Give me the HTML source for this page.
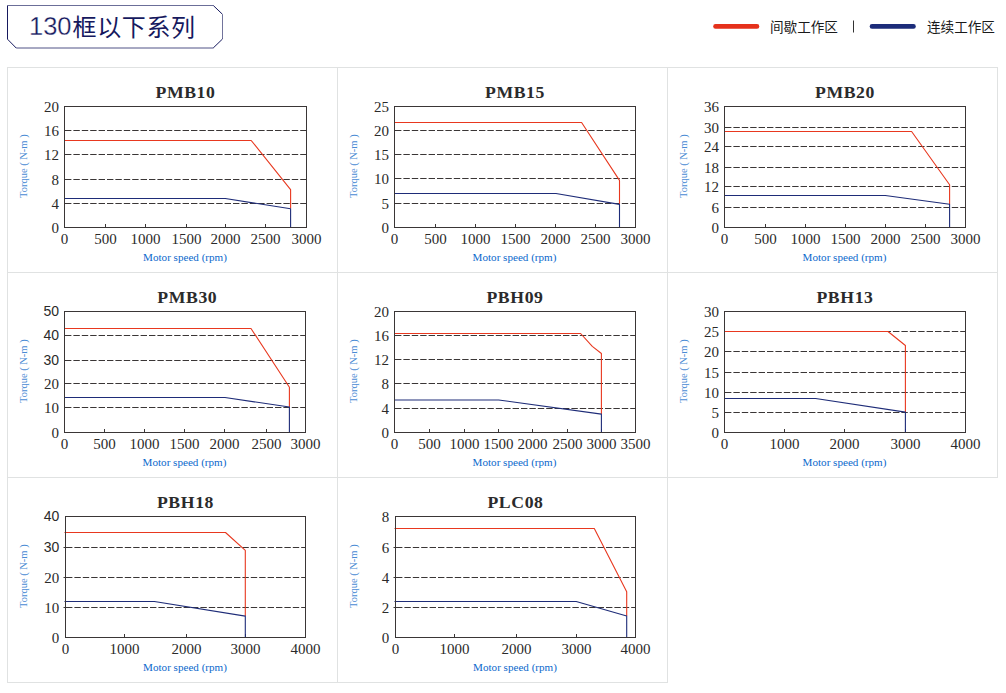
<!DOCTYPE html>
<html lang="zh-CN"><head><meta charset="utf-8"><title>130框以下系列</title>
<style>
html,body{margin:0;padding:0;background:#fff;}
body{width:1006px;height:693px;overflow:hidden;}
svg{display:block;}
.g{stroke:#3a3636;stroke-width:1;stroke-dasharray:6.4 2;stroke-dashoffset:7.9;fill:none;}
.a{stroke:#3a3636;stroke-width:1;fill:none;}
.r{stroke:#e8381f;stroke-width:1.1;fill:none;stroke-linejoin:round;}
.b{stroke:#1e2c78;stroke-width:1.1;fill:none;stroke-linejoin:round;}
.yt{text-anchor:end;fill:#2a2a2a;}
.xt{text-anchor:middle;fill:#2a2a2a;}
.tt{text-anchor:middle;font-family:"Liberation Serif",serif;font-weight:bold;font-size:17.7px;letter-spacing:0.6px;fill:#2b2b2b;}
.xl{text-anchor:middle;font-family:"Liberation Serif",serif;font-size:11.1px;fill:#0a68cc;}
.yl{text-anchor:middle;font-family:"Liberation Serif",serif;font-size:10.5px;fill:#4a8bd4;}
.hd{font-family:"Liberation Sans","Noto Sans CJK SC",sans-serif;font-size:24px;fill:#16195e;}
.lg{font-family:"Liberation Sans","Noto Sans CJK SC",sans-serif;font-size:13.6px;fill:#1a1a1a;}
</style></head>
<body>
<svg width="1006" height="693" viewBox="0 0 1006 693">
<g fill="none" stroke-width="1">
<path d="M7.5 5 V39.2 L16.2 48" stroke="#16195e"/>
<path d="M7 5.5 H213.3" stroke="#6b6e98"/>
<path d="M213.3 5.5 L222.5 14.3" stroke="#16195e"/>
<path d="M222.5 14.3 V39" stroke="#72749c"/>
<path d="M222.5 39 L213.2 48" stroke="#16195e"/>
<path d="M16.2 48 H213.2" stroke="#16195e" stroke-opacity="0.75"/>
</g>
<text x="29" y="35.2" class="hd"><tspan style="font-size:25.5px;stroke:#fff;stroke-width:0.3px">130</tspan><tspan x="72.6" y="35.8" style="letter-spacing:0.6px">框以下系列</tspan></text>
<line x1="715.5" y1="26.4" x2="757" y2="26.4" stroke="#e5311b" stroke-width="4.6" stroke-linecap="round"/>
<text x="770" y="31.6" class="lg">间歇工作区</text>
<line x1="853.5" y1="20.5" x2="853.5" y2="32.5" stroke="#333" stroke-width="1"/>
<line x1="872" y1="26.4" x2="913.5" y2="26.4" stroke="#1c2c7a" stroke-width="4.6" stroke-linecap="round"/>
<text x="927" y="31.6" class="lg">连续工作区</text>
<g stroke="#e0e2e2" stroke-width="1" fill="none">
<line x1="7" y1="67.5" x2="998" y2="67.5"/>
<line x1="7" y1="272.5" x2="998" y2="272.5"/>
<line x1="7" y1="477.5" x2="998" y2="477.5"/>
<line x1="7" y1="682.5" x2="668" y2="682.5"/>
<line x1="7.5" y1="67" x2="7.5" y2="683"/>
<line x1="337.5" y1="67" x2="337.5" y2="683"/>
<line x1="667.5" y1="67" x2="667.5" y2="683"/>
<line x1="997.5" y1="67" x2="997.5" y2="478"/>
</g>
<line x1="64.5" y1="203.5" x2="306.5" y2="203.5" class="g"/>
<line x1="64.5" y1="179.5" x2="306.5" y2="179.5" class="g"/>
<line x1="64.5" y1="154.5" x2="306.5" y2="154.5" class="g"/>
<line x1="64.5" y1="130.5" x2="306.5" y2="130.5" class="g"/>
<line x1="105.5" y1="224" x2="105.5" y2="227.5" class="a"/>
<line x1="145.5" y1="224" x2="145.5" y2="227.5" class="a"/>
<line x1="186.5" y1="224" x2="186.5" y2="227.5" class="a"/>
<line x1="225.5" y1="224" x2="225.5" y2="227.5" class="a"/>
<line x1="265.5" y1="224" x2="265.5" y2="227.5" class="a"/>
<polyline points="64.5,140.5 251.2,140.5 290.6,189.6 290.6,208.6" class="r"/>
<polyline points="64.5,198.5 225.3,198.5 290.6,208.8 290.6,227.5" class="b"/>
<rect x="64.5" y="106.5" width="242" height="121" class="a"/>
<text x="59" y="232.8" class="yt" style="font-family:'Liberation Serif', serif;font-size:15px">0</text>
<text x="59" y="208.8" class="yt" style="font-family:'Liberation Serif', serif;font-size:15px">4</text>
<text x="59" y="184.8" class="yt" style="font-family:'Liberation Serif', serif;font-size:15px">8</text>
<text x="59" y="159.8" class="yt" style="font-family:'Liberation Serif', serif;font-size:15px">12</text>
<text x="59" y="135.8" class="yt" style="font-family:'Liberation Serif', serif;font-size:15px">16</text>
<text x="59" y="111.8" class="yt" style="font-family:'Liberation Serif', serif;font-size:15px">20</text>
<text x="64.5" y="244" class="xt" style="font-family:'Liberation Serif', serif;font-size:15px">0</text>
<text x="105.5" y="244" class="xt" style="font-family:'Liberation Serif', serif;font-size:15px">500</text>
<text x="145.5" y="244" class="xt" style="font-family:'Liberation Serif', serif;font-size:15px">1000</text>
<text x="186.5" y="244" class="xt" style="font-family:'Liberation Serif', serif;font-size:15px">1500</text>
<text x="225.5" y="244" class="xt" style="font-family:'Liberation Serif', serif;font-size:15px">2000</text>
<text x="265.5" y="244" class="xt" style="font-family:'Liberation Serif', serif;font-size:15px">2500</text>
<text x="306.5" y="244" class="xt" style="font-family:'Liberation Serif', serif;font-size:15px">3000</text>
<text x="185.5" y="97.8" class="tt">PMB10</text>
<text x="185" y="261" class="xl">Motor speed (rpm)</text>
<text transform="translate(27.1 166.2) rotate(-90)" class="yl">Torque ( N-m )</text>
<line x1="394.5" y1="203.5" x2="635.5" y2="203.5" class="g"/>
<line x1="394.5" y1="178.5" x2="635.5" y2="178.5" class="g"/>
<line x1="394.5" y1="154.5" x2="635.5" y2="154.5" class="g"/>
<line x1="394.5" y1="130.5" x2="635.5" y2="130.5" class="g"/>
<line x1="435.5" y1="224" x2="435.5" y2="227.5" class="a"/>
<line x1="475.5" y1="224" x2="475.5" y2="227.5" class="a"/>
<line x1="515.5" y1="224" x2="515.5" y2="227.5" class="a"/>
<line x1="555.5" y1="224" x2="555.5" y2="227.5" class="a"/>
<line x1="595.5" y1="224" x2="595.5" y2="227.5" class="a"/>
<polyline points="394.5,122.5 581.6,122.5 619.5,180.4 619.5,204" class="r"/>
<polyline points="394.5,193.5 556,193.5 619.5,204.4 619.5,227.5" class="b"/>
<rect x="394.5" y="106.5" width="241" height="121" class="a"/>
<text x="389" y="232.8" class="yt" style="font-family:'Liberation Serif', serif;font-size:15px">0</text>
<text x="389" y="208.8" class="yt" style="font-family:'Liberation Serif', serif;font-size:15px">5</text>
<text x="389" y="183.8" class="yt" style="font-family:'Liberation Serif', serif;font-size:15px">10</text>
<text x="389" y="159.8" class="yt" style="font-family:'Liberation Serif', serif;font-size:15px">15</text>
<text x="389" y="135.8" class="yt" style="font-family:'Liberation Serif', serif;font-size:15px">20</text>
<text x="389" y="111.8" class="yt" style="font-family:'Liberation Serif', serif;font-size:15px">25</text>
<text x="394.5" y="244" class="xt" style="font-family:'Liberation Serif', serif;font-size:15px">0</text>
<text x="435.5" y="244" class="xt" style="font-family:'Liberation Serif', serif;font-size:15px">500</text>
<text x="475.5" y="244" class="xt" style="font-family:'Liberation Serif', serif;font-size:15px">1000</text>
<text x="515.5" y="244" class="xt" style="font-family:'Liberation Serif', serif;font-size:15px">1500</text>
<text x="555.5" y="244" class="xt" style="font-family:'Liberation Serif', serif;font-size:15px">2000</text>
<text x="595.5" y="244" class="xt" style="font-family:'Liberation Serif', serif;font-size:15px">2500</text>
<text x="635.5" y="244" class="xt" style="font-family:'Liberation Serif', serif;font-size:15px">3000</text>
<text x="515" y="97.8" class="tt">PMB15</text>
<text x="514.5" y="261" class="xl">Motor speed (rpm)</text>
<text transform="translate(357.1 166.2) rotate(-90)" class="yl">Torque ( N-m )</text>
<line x1="724.5" y1="207.5" x2="965.5" y2="207.5" class="g"/>
<line x1="724.5" y1="186.5" x2="965.5" y2="186.5" class="g"/>
<line x1="724.5" y1="167.5" x2="965.5" y2="167.5" class="g"/>
<line x1="724.5" y1="146.5" x2="965.5" y2="146.5" class="g"/>
<line x1="724.5" y1="127.5" x2="965.5" y2="127.5" class="g"/>
<line x1="765.5" y1="224" x2="765.5" y2="227.5" class="a"/>
<line x1="805.5" y1="224" x2="805.5" y2="227.5" class="a"/>
<line x1="845.5" y1="224" x2="845.5" y2="227.5" class="a"/>
<line x1="885.5" y1="224" x2="885.5" y2="227.5" class="a"/>
<line x1="925.5" y1="224" x2="925.5" y2="227.5" class="a"/>
<polyline points="724.5,131.5 911.6,131.5 949.6,184.7 949.6,204.2" class="r"/>
<polyline points="724.5,195.5 885.3,195.5 949.6,204.2 949.6,227.5" class="b"/>
<rect x="724.5" y="106.5" width="241" height="121" class="a"/>
<text x="719" y="232.8" class="yt" style="font-family:'Liberation Serif', serif;font-size:15px">0</text>
<text x="719" y="212.8" class="yt" style="font-family:'Liberation Serif', serif;font-size:15px">6</text>
<text x="719" y="191.8" class="yt" style="font-family:'Liberation Serif', serif;font-size:15px">12</text>
<text x="719" y="172.8" class="yt" style="font-family:'Liberation Serif', serif;font-size:15px">18</text>
<text x="719" y="151.8" class="yt" style="font-family:'Liberation Serif', serif;font-size:15px">24</text>
<text x="719" y="132.8" class="yt" style="font-family:'Liberation Serif', serif;font-size:15px">30</text>
<text x="719" y="111.8" class="yt" style="font-family:'Liberation Serif', serif;font-size:15px">36</text>
<text x="724.5" y="244" class="xt" style="font-family:'Liberation Serif', serif;font-size:15px">0</text>
<text x="765.5" y="244" class="xt" style="font-family:'Liberation Serif', serif;font-size:15px">500</text>
<text x="805.5" y="244" class="xt" style="font-family:'Liberation Serif', serif;font-size:15px">1000</text>
<text x="845.5" y="244" class="xt" style="font-family:'Liberation Serif', serif;font-size:15px">1500</text>
<text x="885.5" y="244" class="xt" style="font-family:'Liberation Serif', serif;font-size:15px">2000</text>
<text x="925.5" y="244" class="xt" style="font-family:'Liberation Serif', serif;font-size:15px">2500</text>
<text x="965.5" y="244" class="xt" style="font-family:'Liberation Serif', serif;font-size:15px">3000</text>
<text x="845" y="97.8" class="tt">PMB20</text>
<text x="844.5" y="261" class="xl">Motor speed (rpm)</text>
<text transform="translate(687.1 166.2) rotate(-90)" class="yl">Torque ( N-m )</text>
<line x1="64.5" y1="407.5" x2="305.5" y2="407.5" class="g"/>
<line x1="64.5" y1="383.5" x2="305.5" y2="383.5" class="g"/>
<line x1="64.5" y1="360.5" x2="305.5" y2="360.5" class="g"/>
<line x1="64.5" y1="335.5" x2="305.5" y2="335.5" class="g"/>
<line x1="104.5" y1="429" x2="104.5" y2="432.5" class="a"/>
<line x1="144.5" y1="429" x2="144.5" y2="432.5" class="a"/>
<line x1="184.5" y1="429" x2="184.5" y2="432.5" class="a"/>
<line x1="224.5" y1="429" x2="224.5" y2="432.5" class="a"/>
<line x1="266.5" y1="429" x2="266.5" y2="432.5" class="a"/>
<polyline points="64.5,328.5 251,328.5 289.4,387.2 289.4,407" class="r"/>
<polyline points="64.5,397.5 225,397.5 289.4,407 289.4,432.5" class="b"/>
<rect x="64.5" y="311.5" width="241" height="121" class="a"/>
<text x="59" y="437.8" class="yt" style="font-family:'Liberation Serif', serif;font-size:15px">0</text>
<text x="59" y="412.8" class="yt" style="font-family:'Liberation Serif', serif;font-size:15px">10</text>
<text x="59" y="388.8" class="yt" style="font-family:'Liberation Serif', serif;font-size:15px">20</text>
<text x="59" y="365.3" class="yt" style="font-family:'Liberation Sans', sans-serif;font-size:14px">30</text>
<text x="59" y="340.3" class="yt" style="font-family:'Liberation Sans', sans-serif;font-size:14px">40</text>
<text x="59" y="316.3" class="yt" style="font-family:'Liberation Sans', sans-serif;font-size:14px">50</text>
<text x="64.5" y="449" class="xt" style="font-family:'Liberation Serif', serif;font-size:15px">0</text>
<text x="104.5" y="449" class="xt" style="font-family:'Liberation Serif', serif;font-size:15px">500</text>
<text x="144.5" y="449" class="xt" style="font-family:'Liberation Serif', serif;font-size:15px">1000</text>
<text x="184.5" y="449" class="xt" style="font-family:'Liberation Serif', serif;font-size:15px">1500</text>
<text x="224.5" y="449" class="xt" style="font-family:'Liberation Serif', serif;font-size:15px">2000</text>
<text x="266.5" y="449" class="xt" style="font-family:'Liberation Serif', serif;font-size:15px">2500</text>
<text x="305.5" y="449" class="xt" style="font-family:'Liberation Serif', serif;font-size:15px">3000</text>
<text x="187.3" y="302.8" class="tt">PMB30</text>
<text x="184.5" y="466" class="xl">Motor speed (rpm)</text>
<text transform="translate(27.1 371.2) rotate(-90)" class="yl">Torque ( N-m )</text>
<line x1="394.5" y1="408.5" x2="635.5" y2="408.5" class="g"/>
<line x1="394.5" y1="383.5" x2="635.5" y2="383.5" class="g"/>
<line x1="394.5" y1="359.5" x2="635.5" y2="359.5" class="g"/>
<line x1="394.5" y1="335.5" x2="635.5" y2="335.5" class="g"/>
<line x1="429.5" y1="429" x2="429.5" y2="432.5" class="a"/>
<line x1="464.5" y1="429" x2="464.5" y2="432.5" class="a"/>
<line x1="498.5" y1="429" x2="498.5" y2="432.5" class="a"/>
<line x1="532.5" y1="429" x2="532.5" y2="432.5" class="a"/>
<line x1="567.5" y1="429" x2="567.5" y2="432.5" class="a"/>
<line x1="601.5" y1="429" x2="601.5" y2="432.5" class="a"/>
<polyline points="394.5,333.5 580.6,333.5 592.3,346.4 601.4,353.5 601.4,414.1" class="r"/>
<polyline points="394.5,400 498.7,400 601.4,414.1 601.4,432.5" class="b"/>
<rect x="394.5" y="311.5" width="241" height="121" class="a"/>
<text x="389" y="437.8" class="yt" style="font-family:'Liberation Serif', serif;font-size:15px">0</text>
<text x="389" y="413.8" class="yt" style="font-family:'Liberation Serif', serif;font-size:15px">4</text>
<text x="389" y="388.8" class="yt" style="font-family:'Liberation Serif', serif;font-size:15px">8</text>
<text x="389" y="364.8" class="yt" style="font-family:'Liberation Serif', serif;font-size:15px">12</text>
<text x="389" y="340.8" class="yt" style="font-family:'Liberation Serif', serif;font-size:15px">16</text>
<text x="389" y="316.8" class="yt" style="font-family:'Liberation Serif', serif;font-size:15px">20</text>
<text x="394.5" y="449" class="xt" style="font-family:'Liberation Serif', serif;font-size:15px">0</text>
<text x="429.5" y="449" class="xt" style="font-family:'Liberation Serif', serif;font-size:15px">500</text>
<text x="464.5" y="449" class="xt" style="font-family:'Liberation Serif', serif;font-size:15px">1000</text>
<text x="498.5" y="449" class="xt" style="font-family:'Liberation Serif', serif;font-size:15px">1500</text>
<text x="532.5" y="449" class="xt" style="font-family:'Liberation Serif', serif;font-size:15px">2000</text>
<text x="567.5" y="449" class="xt" style="font-family:'Liberation Serif', serif;font-size:15px">2500</text>
<text x="601.5" y="449" class="xt" style="font-family:'Liberation Serif', serif;font-size:15px">3000</text>
<text x="635.5" y="449" class="xt" style="font-family:'Liberation Serif', serif;font-size:15px">3500</text>
<text x="515" y="302.8" class="tt">PBH09</text>
<text x="514.5" y="466" class="xl">Motor speed (rpm)</text>
<text transform="translate(357.1 371.2) rotate(-90)" class="yl">Torque ( N-m )</text>
<line x1="724.5" y1="412.5" x2="965.5" y2="412.5" class="g"/>
<line x1="724.5" y1="392.5" x2="965.5" y2="392.5" class="g"/>
<line x1="724.5" y1="372.5" x2="965.5" y2="372.5" class="g"/>
<line x1="724.5" y1="351.5" x2="965.5" y2="351.5" class="g"/>
<line x1="724.5" y1="331.5" x2="965.5" y2="331.5" class="g"/>
<line x1="784.5" y1="429" x2="784.5" y2="432.5" class="a"/>
<line x1="844.5" y1="429" x2="844.5" y2="432.5" class="a"/>
<line x1="905.5" y1="429" x2="905.5" y2="432.5" class="a"/>
<polyline points="724.5,331.5 888,331.5 905.4,345.5 905.4,412.1" class="r"/>
<polyline points="724.5,398.5 815.6,398.5 905.4,412.1 905.4,432.5" class="b"/>
<rect x="724.5" y="311.5" width="241" height="121" class="a"/>
<text x="719" y="437.8" class="yt" style="font-family:'Liberation Serif', serif;font-size:15px">0</text>
<text x="719" y="417.8" class="yt" style="font-family:'Liberation Serif', serif;font-size:15px">5</text>
<text x="719" y="397.8" class="yt" style="font-family:'Liberation Serif', serif;font-size:15px">10</text>
<text x="719" y="377.8" class="yt" style="font-family:'Liberation Serif', serif;font-size:15px">15</text>
<text x="719" y="356.8" class="yt" style="font-family:'Liberation Serif', serif;font-size:15px">20</text>
<text x="719" y="336.8" class="yt" style="font-family:'Liberation Serif', serif;font-size:15px">25</text>
<text x="719" y="316.8" class="yt" style="font-family:'Liberation Serif', serif;font-size:15px">30</text>
<text x="724.5" y="449" class="xt" style="font-family:'Liberation Serif', serif;font-size:15px">0</text>
<text x="784.5" y="449" class="xt" style="font-family:'Liberation Serif', serif;font-size:15px">1000</text>
<text x="844.5" y="449" class="xt" style="font-family:'Liberation Serif', serif;font-size:15px">2000</text>
<text x="905.5" y="449" class="xt" style="font-family:'Liberation Serif', serif;font-size:15px">3000</text>
<text x="965.5" y="449" class="xt" style="font-family:'Liberation Serif', serif;font-size:15px">4000</text>
<text x="845" y="302.8" class="tt">PBH13</text>
<text x="844.5" y="466" class="xl">Motor speed (rpm)</text>
<text transform="translate(687.1 371.2) rotate(-90)" class="yl">Torque ( N-m )</text>
<line x1="65.5" y1="607.5" x2="305.5" y2="607.5" class="g"/>
<line x1="65.5" y1="577.5" x2="305.5" y2="577.5" class="g"/>
<line x1="65.5" y1="547.5" x2="305.5" y2="547.5" class="g"/>
<line x1="124.5" y1="634" x2="124.5" y2="637.5" class="a"/>
<line x1="186.5" y1="634" x2="186.5" y2="637.5" class="a"/>
<line x1="245.5" y1="634" x2="245.5" y2="637.5" class="a"/>
<polyline points="64.5,532.5 225.5,532.5 245.3,550.4 245.3,616" class="r"/>
<polyline points="64.5,601.5 154.4,601.5 245.3,616.1 245.3,637.5" class="b"/>
<rect x="65.5" y="516.5" width="240" height="121" class="a"/>
<text x="59.3" y="642.8" class="yt" style="font-family:'Liberation Serif', serif;font-size:15px">0</text>
<text x="59.3" y="612.8" class="yt" style="font-family:'Liberation Serif', serif;font-size:15px">10</text>
<text x="59.3" y="582.8" class="yt" style="font-family:'Liberation Serif', serif;font-size:15px">20</text>
<text x="59.3" y="552.3" class="yt" style="font-family:'Liberation Sans', sans-serif;font-size:14px">30</text>
<text x="59.3" y="521.3" class="yt" style="font-family:'Liberation Sans', sans-serif;font-size:14px">40</text>
<line x1="63.5" y1="607.5" x2="65.5" y2="607.5" class="a"/>
<line x1="63.5" y1="577.5" x2="65.5" y2="577.5" class="a"/>
<line x1="63.5" y1="547.5" x2="65.5" y2="547.5" class="a"/>
<text x="65.5" y="654" class="xt" style="font-family:'Liberation Serif', serif;font-size:15px">0</text>
<text x="124.5" y="654" class="xt" style="font-family:'Liberation Serif', serif;font-size:15px">1000</text>
<text x="186.5" y="654" class="xt" style="font-family:'Liberation Serif', serif;font-size:15px">2000</text>
<text x="245.5" y="654" class="xt" style="font-family:'Liberation Serif', serif;font-size:15px">3000</text>
<text x="305.5" y="654" class="xt" style="font-family:'Liberation Serif', serif;font-size:15px">4000</text>
<text x="185.5" y="507.8" class="tt">PBH18</text>
<text x="185" y="671" class="xl">Motor speed (rpm)</text>
<text transform="translate(27.1 576.2) rotate(-90)" class="yl">Torque ( N-m )</text>
<line x1="395.5" y1="607.5" x2="635.5" y2="607.5" class="g"/>
<line x1="395.5" y1="577.5" x2="635.5" y2="577.5" class="g"/>
<line x1="395.5" y1="547.5" x2="635.5" y2="547.5" class="g"/>
<line x1="454.5" y1="634" x2="454.5" y2="637.5" class="a"/>
<line x1="516.5" y1="634" x2="516.5" y2="637.5" class="a"/>
<line x1="576.5" y1="634" x2="576.5" y2="637.5" class="a"/>
<polyline points="394.5,528.5 594.3,528.5 626.7,591.8 626.7,616" class="r"/>
<polyline points="394.5,601.5 576.2,601.5 626.7,616 626.7,637.5" class="b"/>
<rect x="395.5" y="516.5" width="240" height="121" class="a"/>
<text x="389.3" y="642.8" class="yt" style="font-family:'Liberation Serif', serif;font-size:15px">0</text>
<text x="389.3" y="612.8" class="yt" style="font-family:'Liberation Serif', serif;font-size:15px">2</text>
<text x="389.3" y="582.8" class="yt" style="font-family:'Liberation Serif', serif;font-size:15px">4</text>
<text x="389.3" y="552.8" class="yt" style="font-family:'Liberation Serif', serif;font-size:15px">6</text>
<text x="389.3" y="521.8" class="yt" style="font-family:'Liberation Serif', serif;font-size:15px">8</text>
<line x1="393.5" y1="607.5" x2="395.5" y2="607.5" class="a"/>
<line x1="393.5" y1="577.5" x2="395.5" y2="577.5" class="a"/>
<line x1="393.5" y1="547.5" x2="395.5" y2="547.5" class="a"/>
<text x="395.5" y="654" class="xt" style="font-family:'Liberation Serif', serif;font-size:15px">0</text>
<text x="454.5" y="654" class="xt" style="font-family:'Liberation Serif', serif;font-size:15px">1000</text>
<text x="516.5" y="654" class="xt" style="font-family:'Liberation Serif', serif;font-size:15px">2000</text>
<text x="576.5" y="654" class="xt" style="font-family:'Liberation Serif', serif;font-size:15px">3000</text>
<text x="635.5" y="654" class="xt" style="font-family:'Liberation Serif', serif;font-size:15px">4000</text>
<text x="515.5" y="507.8" class="tt">PLC08</text>
<text x="515" y="671" class="xl">Motor speed (rpm)</text>
<text transform="translate(357.1 576.2) rotate(-90)" class="yl">Torque ( N-m )</text>
</svg>
</body></html>
